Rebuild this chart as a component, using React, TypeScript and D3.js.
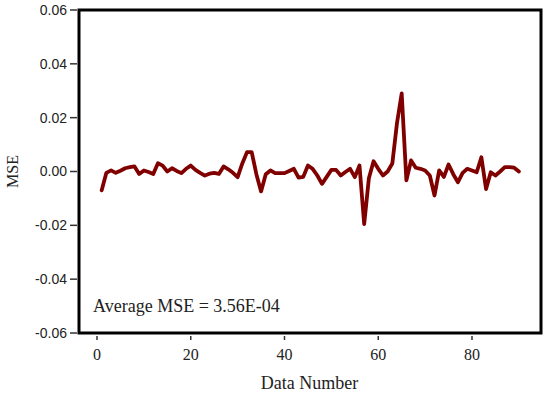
import React from "react";
import * as d3 from "d3";

const mseValues: number[] = [
  -0.0070, -0.0005, 0.0004, -0.0005, 0.0003, 0.0012, 0.0016, 0.0019, -0.0009, 0.0004,
  -0.0002, -0.0009, 0.0031, 0.0022, 0.0000, 0.0012, 0.0002, -0.0006, 0.0010, 0.0022,
  0.0006, -0.0005, -0.0015, -0.0008, -0.0005, -0.0009, 0.0019, 0.0008, -0.0005, -0.0021,
  0.0030, 0.0072, 0.0072, -0.0010, -0.0074, -0.0010, 0.0004, -0.0006, -0.0006, -0.0006,
  0.0002, 0.0010, -0.0023, -0.0020, 0.0022, 0.0010, -0.0015, -0.0046, -0.0020, 0.0006,
  0.0006, -0.0015, -0.0002, 0.0010, -0.0021, 0.0022, -0.0195, -0.0025, 0.0038, 0.0010,
  -0.0015, 0.0000, 0.0030, 0.0180, 0.0290, -0.0033, 0.0041, 0.0014, 0.0010, 0.0004,
  -0.0015, -0.0089, 0.0004, -0.0020, 0.0026, -0.0010, -0.0040, -0.0005, 0.0010, 0.0004,
  -0.0003, 0.0053, -0.0065, -0.0003, -0.0015, 0.0000, 0.0016, 0.0016, 0.0014, 0.0000,
];
const dataNumbers: number[] = mseValues.map((_, i) => i + 1);

const xTicks: number[] = [0, 20, 40, 60, 80];
const yTicks: number[] = [-0.06, -0.04, -0.02, 0, 0.02, 0.04, 0.06];

const xLabel = "Data Number";
const yLabel = "MSE";
const annotation = "Average MSE = 3.56E-04";

export default function App() {
  const W = 550, H = 397;
  const left = 79, right = 541, top = 10, bottom = 333;
  const x = d3.scaleLinear().domain([0, 80]).range([97, 472]);
  const y = d3.scaleLinear().domain([-0.06, 0.06]).range([bottom, top]);
  const line = d3
    .line<number>()
    .x((_, i) => x(dataNumbers[i]))
    .y((d) => y(d));
  const serif = "'Liberation Serif', 'Times New Roman', serif";
  const sans = "'Liberation Sans', Arial, sans-serif";
  return (
    <svg
      width={W}
      height={H}
      style={{ position: "absolute", left: 0, top: 0, background: "#fff" }}
      fontFamily={serif}
    >
      <rect x={0} y={0} width={W} height={H} fill="#fff" />
      {yTicks.map((t) => (
        <g key={"y" + t}>
          <line x1={70} x2={77} y1={y(t)} y2={y(t)} stroke="#333" strokeWidth={1.5} />
          <text x={67} y={y(t)} dy="0.35em" textAnchor="end" fontSize={14} fontFamily={sans} fill="#222">
            {t === 0 ? "0.00" : d3.format(".2f")(t).replace("−", "-")}
          </text>
        </g>
      ))}
      {xTicks.map((t) => (
        <g key={"x" + t}>
          <line x1={x(t)} x2={x(t)} y1={336} y2={340} stroke="#333" strokeWidth={1.5} />
          <text x={x(t)} y={360} textAnchor="middle" fontSize={16} fill="#222">
            {t}
          </text>
        </g>
      ))}
      <path d={line(mseValues) || ""} fill="none" stroke="#800000" strokeWidth={3.8} strokeLinejoin="round" strokeLinecap="round" />
      <rect x={left} y={top} width={right - left} height={bottom - top} fill="none" stroke="#000" strokeWidth={3} />
      <text x={93} y={312} fontSize={18} fill="#222">{annotation}</text>
      <text x={309.5} y={389} textAnchor="middle" fontSize={18} fill="#222">{xLabel}</text>
      <text transform={`translate(18,${(top + bottom) / 2}) rotate(-90)`} textAnchor="middle" fontSize={16} fill="#222">
        {yLabel}
      </text>
    </svg>
  );
}
